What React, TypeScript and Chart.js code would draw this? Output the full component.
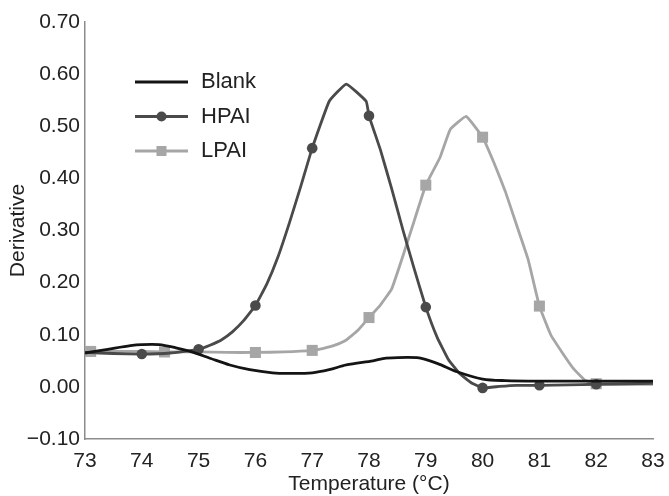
import React, { useEffect, useRef } from "react";
import { Chart, registerables } from "chart.js";

Chart.register(...registerables);

// ---- data ----
const temperatureTicks = [73, 74, 75, 76, 77, 78, 79, 80, 81, 82, 83];
const derivativeTicks = [-0.1, 0, 0.1, 0.2, 0.3, 0.4, 0.5, 0.6, 0.7];

const seriesLabels = ["Blank", "HPAI", "LPAI"];

const blankTemps = [73, 73.4, 73.8, 74.0, 74.3, 74.6, 74.85, 75.2, 75.55, 75.9, 76.3, 76.6, 77.0, 77.3, 77.6, 78.07, 78.3, 78.85, 79.2, 79.55, 80.0, 80.4, 81, 82, 83];
const blankValues = [0.065, 0.072, 0.079, 0.081, 0.081, 0.075, 0.068, 0.055, 0.042, 0.033, 0.027, 0.026, 0.027, 0.033, 0.042, 0.05, 0.055, 0.056, 0.045, 0.029, 0.015, 0.012, 0.011, 0.011, 0.011];

const hpaiTemps = [73, 73.5, 74, 74.5, 75, 75.2, 75.4, 75.6, 75.8, 76, 76.2, 76.4, 76.6, 76.8, 77, 77.3, 77.6, 77.95, 78, 78.2, 78.4, 78.6, 78.8, 79, 79.2, 79.4, 79.6, 79.8, 80, 80.3, 80.6, 81, 81.5, 82, 82.5, 83];
const hpaiValues = [0.066, 0.064, 0.063, 0.065, 0.072, 0.08, 0.09, 0.106, 0.128, 0.156, 0.197, 0.25, 0.315, 0.385, 0.458, 0.548, 0.581, 0.548, 0.52, 0.455, 0.38, 0.3, 0.225, 0.153, 0.095, 0.052, 0.025, 0.008, -0.002, 0.001, 0.003, 0.003, 0.004, 0.005, 0.006, 0.007];
const hpaiMarkerTemps = [74, 75, 76, 77, 78, 79, 80, 81, 82];

const lpaiTemps = [73, 73.1, 73.5, 74, 74.4, 75, 75.5, 76, 76.5, 77, 77.2, 77.4, 77.6, 77.8, 78, 78.2, 78.4, 78.6, 78.8, 79, 79.25, 79.43, 79.71, 80, 80.2, 80.4, 80.6, 80.8, 81, 81.2, 81.4, 81.6, 81.8, 82, 82.5, 83];
const lpaiValues = [0.068, 0.068, 0.068, 0.068, 0.067, 0.067, 0.066, 0.066, 0.067, 0.07, 0.074, 0.08, 0.09, 0.108, 0.133, 0.157, 0.188, 0.252, 0.32, 0.387, 0.44, 0.494, 0.519, 0.479, 0.43, 0.375, 0.31, 0.245, 0.155, 0.1, 0.066, 0.035, 0.013, 0.006, 0.005, 0.005];
const lpaiMarkerTemps = [73.1, 74.4, 76, 77, 78, 79, 80, 81, 82];

// ---- styles ----
const FONT = '"Liberation Sans", Arial, Helvetica, sans-serif';
const TEXT = "#222222";
const AXIS = "#8c8c8c";
const BLANK_COLOR = "#141414";
const HPAI_COLOR = "#4a4a4a";
const LPAI_COLOR = "#a6a6a6";

const toPoints = (xs: number[], ys: number[]) => xs.map((x, i) => ({ x, y: ys[i] }));

const markerRadius = (temps: number[], r: number) => (ctx: any) => {
  const raw = ctx.raw;
  if (!raw) return 0;
  return temps.some((t) => Math.abs(t - raw.x) < 1e-6) ? r : 0;
};

const insideLegend = {
  id: "insideLegend",
  afterDraw(chart: any) {
    const { ctx, chartArea } = chart;
    const x0 = chartArea.left + 50;
    const x1 = chartArea.left + 103;
    const tx = chartArea.left + 116;
    chart.data.datasets.forEach((ds: any, i: number) => {
      const y = chartArea.top + 60 + i * 34.5;
      ctx.save();
      ctx.strokeStyle = ds.borderColor;
      ctx.lineWidth = 3;
      ctx.beginPath();
      ctx.moveTo(x0, y);
      ctx.lineTo(x1, y);
      ctx.stroke();
      const cx = (x0 + x1) / 2;
      ctx.fillStyle = ds.pointBackgroundColor || ds.borderColor;
      if (ds.pointStyle === "circle") {
        ctx.beginPath();
        ctx.arc(cx, y, 5, 0, Math.PI * 2);
        ctx.fill();
      } else if (ds.pointStyle === "rect") {
        ctx.fillRect(cx - 5, y - 5, 10, 10);
      }
      ctx.fillStyle = TEXT;
      ctx.font = `22px ${FONT}`;
      ctx.textBaseline = "middle";
      ctx.textAlign = "left";
      ctx.fillText(ds.label, tx, y);
      ctx.restore();
    });
  },
};

export default function App() {
  const canvasRef = useRef<HTMLCanvasElement | null>(null);

  useEffect(() => {
    if (!canvasRef.current) return;
    const chart = new Chart(canvasRef.current, {
      type: "line",
      data: {
        datasets: [
          {
            label: seriesLabels[0],
            data: toPoints(blankTemps, blankValues),
            borderColor: BLANK_COLOR,
            backgroundColor: BLANK_COLOR,
            borderWidth: 2.8,
            pointRadius: 0,
            pointStyle: false as any,
            tension: 0.3,
          },
          {
            label: seriesLabels[1],
            data: toPoints(hpaiTemps, hpaiValues),
            borderColor: HPAI_COLOR,
            backgroundColor: HPAI_COLOR,
            pointBackgroundColor: HPAI_COLOR,
            pointBorderColor: HPAI_COLOR,
            borderWidth: 2.8,
            pointStyle: "circle",
            pointRadius: markerRadius(hpaiMarkerTemps, 5.3),
            pointBorderWidth: 0,
            tension: 0.1,
          },
          {
            label: seriesLabels[2],
            data: toPoints(lpaiTemps, lpaiValues),
            borderColor: LPAI_COLOR,
            backgroundColor: LPAI_COLOR,
            pointBackgroundColor: LPAI_COLOR,
            pointBorderColor: LPAI_COLOR,
            borderWidth: 2.8,
            pointStyle: "rect",
            pointRadius: markerRadius(lpaiMarkerTemps, 7.8),
            pointBorderWidth: 0,
            tension: 0.1,
          },
        ] as any,
      },
      options: {
        responsive: false,
        animation: false,
        events: [],
        layout: { padding: { top: 22, right: 16, bottom: 0, left: 0 } },
        plugins: {
          legend: { display: false },
          tooltip: { enabled: false },
        },
        scales: {
          x: {
            type: "linear",
            min: temperatureTicks[0],
            max: temperatureTicks[temperatureTicks.length - 1],
            afterBuildTicks: (scale: any) => {
              scale.ticks = temperatureTicks.map((v) => ({ value: v }));
            },
            afterFit: (scale: any) => {
              scale.height = 57;
              scale.paddingLeft = 0;
              scale.paddingRight = 0;
            },
            grid: { display: false, drawTicks: false },
            border: { display: true, color: AXIS, width: 1.5 },
            ticks: {
              color: TEXT,
              font: { family: FONT, size: 21 },
              padding: 10,
              maxRotation: 0,
              autoSkip: false,
              callback: (v: any) => String(v),
            },
            title: {
              display: true,
              text: "Temperature (°C)",
              color: TEXT,
              font: { family: FONT, size: 21 },
              padding: { top: 0, bottom: -1 },
            },
          },
          y: {
            type: "linear",
            min: derivativeTicks[0],
            max: derivativeTicks[derivativeTicks.length - 1],
            afterBuildTicks: (scale: any) => {
              scale.ticks = derivativeTicks.map((v) => ({ value: v }));
            },
            afterFit: (scale: any) => {
              scale.width = 85;
              scale.paddingTop = 0;
              scale.paddingBottom = 0;
            },
            grid: { display: false, drawTicks: false },
            border: { display: true, color: AXIS, width: 1.5 },
            ticks: {
              color: TEXT,
              font: { family: FONT, size: 21 },
              padding: 5,
              autoSkip: false,
              callback: (v: any) => {
                const n = Number(v);
                return n < 0 ? "\u2212" + Math.abs(n).toFixed(2) : n.toFixed(2);
              },
            },
            title: {
              display: true,
              text: "Derivative",
              color: TEXT,
              font: { family: FONT, size: 21 },
              padding: { top: 6, bottom: 0 },
            },
          },
        },
      } as any,
      plugins: [insideLegend],
    });
    return () => chart.destroy();
  }, []);

  return (
    <div style={{ position: "fixed", left: 0, top: 0, width: 669, height: 496, background: "#ffffff" }}>
      <canvas ref={canvasRef} width={669} height={496} style={{ display: "block" }} />
    </div>
  );
}
